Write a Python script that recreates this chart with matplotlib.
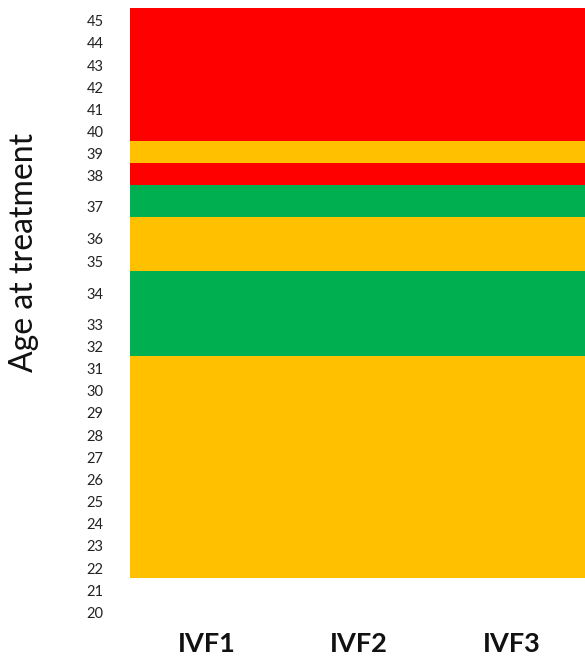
import numpy as np
import matplotlib
matplotlib.use("Agg")
import matplotlib.pyplot as plt
from matplotlib.colors import ListedColormap

plt.rcParams['font.family'] = ['Lato', 'DejaVu Sans']

# ---- data ----
ages = list(range(20, 46))
cycles = ['IVF1', 'IVF2', 'IVF3']
# status codes: 0 = red, 1 = amber, 2 = green, None = no colour
ivf1_status = [None, None, 1, 1, 1, 1, 1, 1, 1, 1, 1, 1, 2, 2, 2, 1, 1, 2, 0, 1, 0, 0, 0, 0, 0, 0]
ivf2_status = [None, None, 1, 1, 1, 1, 1, 1, 1, 1, 1, 1, 2, 2, 2, 1, 1, 2, 0, 1, 0, 0, 0, 0, 0, 0]
ivf3_status = [None, None, 1, 1, 1, 1, 1, 1, 1, 1, 1, 1, 2, 2, 2, 1, 1, 2, 0, 1, 0, 0, 0, 0, 0, 0]

# ---- layout (row heights in the original table) ----
tall_rows = {33: 1.40, 34: 1.44, 36: 1.44, 37: 1.40}
row_heights = [tall_rows.get(a, 1.0) for a in ages]

colors = ['#FF0000', '#FFC000', '#00B050']

y_edges = np.concatenate([[0], np.cumsum(row_heights)])
x_edges = np.arange(len(cycles) + 1)

grid = np.array([[np.nan if v is None else v for v in col]
                 for col in (ivf1_status, ivf2_status, ivf3_status)]).T
grid = np.ma.masked_invalid(grid)

W, H = 585, 658
fig = plt.figure(figsize=(W / 100, H / 100), dpi=100)
left_px, right_px, top_px, bottom_px = 130, 588, 8, 622
ax = fig.add_axes([left_px / W, 1 - bottom_px / H,
                   (right_px - left_px) / W, (bottom_px - top_px) / H])

cmap = ListedColormap(colors)
ax.pcolormesh(x_edges, y_edges, grid, cmap=cmap, vmin=-0.5, vmax=2.5,
              shading='flat')
ax.set_xlim(0, len(cycles))
ax.set_ylim(0, y_edges[-1])

for s in ax.spines.values():
    s.set_visible(False)

# y tick labels sit near the bottom of each row (bottom-aligned cells)
ax.set_yticks(y_edges[:-1] + 0.43)
ax.set_yticklabels([str(a) for a in ages], fontsize=10.5, color='#222222')
ax.tick_params(axis='y', length=0, pad=19)

ax.set_xticks(x_edges[:-1] + 0.5)
ax.set_xticklabels(cycles, fontsize=19.5, fontweight='bold', color='#111111')
ax.tick_params(axis='x', length=0, pad=7)

ax.set_ylabel('Age at treatment', fontsize=23, color='#111111')
ax.yaxis.label.set_rotation_mode('default')
ax.yaxis.label.set_va('center')
ax.yaxis.label.set_ha('center')
ax.yaxis.set_label_coords((24 - left_px) / (right_px - left_px),
                          (bottom_px - 252) / (bottom_px - top_px))

fig.savefig('out.png', dpi=100, facecolor='white')
